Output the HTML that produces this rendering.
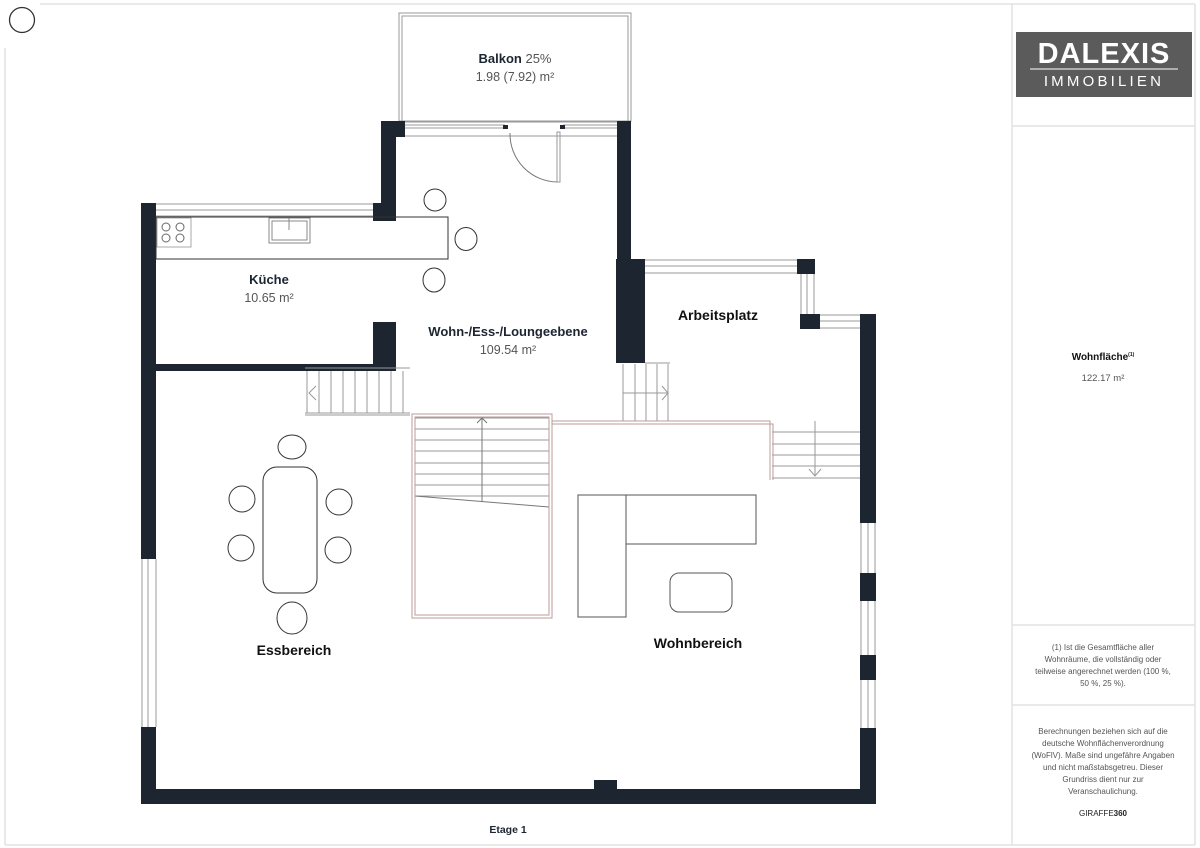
<!DOCTYPE html>
<html><head><meta charset="utf-8"><style>
body{margin:0;background:#fff;}
svg{display:block;font-family:"Liberation Sans",sans-serif;}
</style></head><body>
<svg width="1200" height="848" viewBox="0 0 1200 848" xmlns="http://www.w3.org/2000/svg">
<!-- page frame -->
<g stroke="#e2e2e2" stroke-width="1.5" fill="none">
<line x1="40" y1="4" x2="1195" y2="4"/>
<line x1="5" y1="48" x2="5" y2="845"/>
<line x1="5" y1="845" x2="1195" y2="845"/>
<line x1="1195" y1="4" x2="1195" y2="845"/>
<line x1="1012" y1="4" x2="1012" y2="845"/>
<line x1="1012" y1="126" x2="1195" y2="126"/>
<line x1="1012" y1="625" x2="1195" y2="625"/>
<line x1="1012" y1="705" x2="1195" y2="705"/>
</g>
<circle cx="22" cy="20" r="12.5" fill="none" stroke="#333" stroke-width="1.3"/>

<!-- balcony -->
<g fill="none" stroke="#999" stroke-width="1">
<rect x="399" y="13" width="232" height="108"/>
<rect x="402" y="16" width="226" height="105"/>
</g>
<text x="515" y="63" text-anchor="middle" font-size="13" fill="#1c2530"><tspan font-weight="bold">Balkon</tspan> <tspan fill="#555">25%</tspan></text>
<text x="515" y="81" text-anchor="middle" font-size="12.5" fill="#555">1.98 (7.92) m²</text>

<!-- glazing lines -->
<g stroke="#999" stroke-width="1" fill="none">
<line x1="405" y1="122" x2="617" y2="122"/>
<line x1="405" y1="125" x2="505" y2="125"/><line x1="563" y1="125" x2="617" y2="125"/>
<line x1="405" y1="128" x2="505" y2="128"/><line x1="563" y1="128" x2="617" y2="128"/>
<line x1="405" y1="136" x2="617" y2="136"/>
<!-- kitchen window -->
<line x1="156" y1="204" x2="373" y2="204"/><line x1="156" y1="210" x2="373" y2="210"/><line x1="156" y1="216" x2="373" y2="216"/>
<!-- arbeitsplatz windows -->
<line x1="645" y1="260" x2="797" y2="260"/><line x1="645" y1="266" x2="797" y2="266"/><line x1="645" y1="273" x2="797" y2="273"/>
<line x1="801" y1="274" x2="801" y2="314"/><line x1="807" y1="274" x2="807" y2="314"/><line x1="814" y1="274" x2="814" y2="314"/>
<line x1="820" y1="315" x2="860" y2="315"/><line x1="820" y1="321" x2="860" y2="321"/><line x1="820" y1="328" x2="860" y2="328"/>
<!-- left window -->
<line x1="142" y1="559" x2="142" y2="727"/><line x1="148" y1="559" x2="148" y2="727"/><line x1="156" y1="559" x2="156" y2="727"/>
<!-- right windows -->
<g>
<line x1="861" y1="523" x2="861" y2="573"/><line x1="868" y1="523" x2="868" y2="573"/><line x1="875" y1="523" x2="875" y2="573"/>
<line x1="861" y1="601" x2="861" y2="655"/><line x1="868" y1="601" x2="868" y2="655"/><line x1="875" y1="601" x2="875" y2="655"/>
<line x1="861" y1="680" x2="861" y2="728"/><line x1="868" y1="680" x2="868" y2="728"/><line x1="875" y1="680" x2="875" y2="728"/>
</g>
</g>
<rect x="503" y="125" width="5" height="4" fill="#1c2530"/>
<rect x="560" y="125" width="5" height="4" fill="#1c2530"/>
<!-- door -->
<path d="M510 133 A48 48 0 0 0 558 182" fill="none" stroke="#777" stroke-width="1"/>
<rect x="557" y="132" width="3" height="50" fill="none" stroke="#999" stroke-width="1"/>

<!-- walls -->
<g fill="#1c2530">
<rect x="381" y="121" width="24" height="16"/>
<rect x="381" y="121" width="15" height="100"/>
<rect x="373" y="203" width="23" height="18"/>
<rect x="617" y="121" width="14" height="140"/>
<rect x="616" y="259" width="29" height="104"/>
<rect x="797" y="259" width="18" height="15"/>
<rect x="800" y="314" width="20" height="15"/>
<rect x="860" y="314" width="16" height="209"/>
<rect x="860" y="573" width="16" height="28"/>
<rect x="860" y="655" width="16" height="25"/>
<rect x="860" y="728" width="16" height="76"/>
<rect x="141" y="203" width="15" height="356"/>
<rect x="141" y="727" width="15" height="77"/>
<rect x="141" y="789" width="735" height="15"/>
<rect x="594" y="780" width="23" height="10"/>
<rect x="156" y="364" width="240" height="7"/>
<rect x="373" y="322" width="23" height="49"/>
</g>

<!-- kitchen counter -->
<g fill="none" stroke="#333" stroke-width="1">
<rect x="156" y="217" width="292" height="42"/>
<rect x="269" y="218" width="41" height="25" stroke="#888"/>
<rect x="272" y="221" width="35" height="19" stroke="#888"/>
<line x1="289" y1="218" x2="289" y2="230" stroke="#888"/>
<rect x="157" y="218" width="34" height="29" stroke="#aaa"/>
<circle cx="166" cy="227" r="4" stroke="#666"/><circle cx="180" cy="227" r="4" stroke="#666"/>
<circle cx="166" cy="238" r="4" stroke="#666"/><circle cx="180" cy="238" r="4" stroke="#666"/>
<!-- stools -->
<ellipse cx="435" cy="200" rx="11" ry="11"/>
<ellipse cx="466" cy="239" rx="11" ry="11.5"/>
<ellipse cx="434" cy="280" rx="11" ry="12"/>
<!-- dining -->
<rect x="263" y="467" width="54" height="126" rx="14"/>
<ellipse cx="292" cy="447" rx="14" ry="12"/>
<circle cx="242" cy="499" r="13"/><circle cx="241" cy="548" r="13"/>
<circle cx="339" cy="502" r="13"/><circle cx="338" cy="550" r="13"/>
<ellipse cx="292" cy="618" rx="15" ry="16"/>
<!-- sofa -->
<rect x="578" y="495" width="48" height="122" stroke="#555"/>
<rect x="626" y="495" width="130" height="49" stroke="#555"/>
<rect x="670" y="573" width="62" height="39" rx="9" stroke="#555"/>
</g>

<!-- stairs -->
<g fill="none" stroke="#999" stroke-width="1">
<!-- small left -->
<line x1="305" y1="368" x2="410" y2="368"/><line x1="305" y1="413" x2="410" y2="413"/><line x1="305" y1="415" x2="410" y2="415"/>
<line x1="307" y1="371" x2="307" y2="413"/>
<line x1="319" y1="371" x2="319" y2="413"/><line x1="331" y1="371" x2="331" y2="413"/><line x1="343" y1="371" x2="343" y2="413"/>
<line x1="355" y1="371" x2="355" y2="413"/><line x1="367" y1="371" x2="367" y2="413"/><line x1="379" y1="371" x2="379" y2="413"/>
<line x1="391" y1="371" x2="391" y2="413"/><line x1="403" y1="371" x2="403" y2="413"/>
<polyline points="316,386 309,393 316,400"/>
<!-- small right -->
<line x1="623" y1="364" x2="623" y2="421"/><line x1="635" y1="364" x2="635" y2="421"/><line x1="646" y1="364" x2="646" y2="421"/><line x1="657" y1="364" x2="657" y2="421"/><line x1="668" y1="364" x2="668" y2="421"/>
<line x1="645" y1="363" x2="670" y2="363"/>
<line x1="623" y1="393" x2="668" y2="393"/>
<polyline points="662,386 668,393 662,400"/>
<!-- right stairs -->
<line x1="772" y1="432" x2="860" y2="432"/><line x1="772" y1="444" x2="860" y2="444"/><line x1="772" y1="455" x2="860" y2="455"/><line x1="772" y1="466" x2="860" y2="466"/><line x1="772" y1="478" x2="860" y2="478"/>
<line x1="815" y1="421" x2="815" y2="476"/>
<polyline points="809,469 815,476 821,469"/>
<!-- main stairs -->
<line x1="415" y1="418" x2="549" y2="418"/><line x1="415" y1="429" x2="549" y2="429"/><line x1="415" y1="440" x2="549" y2="440"/>
<line x1="415" y1="451" x2="549" y2="451"/><line x1="415" y1="463" x2="549" y2="463"/><line x1="415" y1="474" x2="549" y2="474"/>
<line x1="415" y1="485" x2="549" y2="485"/><line x1="415" y1="496" x2="549" y2="496"/>
<line x1="415" y1="496" x2="549" y2="507" stroke="#777"/>
<line x1="482" y1="418" x2="482" y2="502" stroke="#777"/>
<polyline points="477,423 482,418 487,423" stroke="#777"/>
</g>
<g fill="none" stroke="#b89e98" stroke-width="1">
<rect x="412" y="414" width="140" height="204"/>
<rect x="415" y="417" width="134" height="198"/>
<polyline points="552,421 770,421 770,480"/>
<polyline points="552,424 773,424 773,480"/>
</g>

<!-- room labels -->
<g fill="#1c2530" text-anchor="middle">
<text x="269" y="284" font-size="13" font-weight="bold">Küche</text>
<text x="269" y="302" font-size="12.5" fill="#555">10.65 m²</text>
<text x="508" y="336" font-size="13" font-weight="bold">Wohn-/Ess-/Loungeebene</text>
<text x="508" y="354" font-size="12.5" fill="#555">109.54 m²</text>
<text x="718" y="320" font-size="14" font-weight="bold" fill="#111">Arbeitsplatz</text>
<text x="294" y="655" font-size="14" font-weight="bold" fill="#111">Essbereich</text>
<text x="698" y="648" font-size="14" font-weight="bold" fill="#111">Wohnbereich</text>
<text x="508" y="833" font-size="10.5" font-weight="bold">Etage 1</text>
</g>

<!-- sidebar -->
<rect x="1016" y="32" width="176" height="65" fill="#5b5b5b"/>
<text x="1104" y="63" text-anchor="middle" font-size="29" font-weight="bold" fill="#fff" letter-spacing="1">DALEXIS</text>
<line x1="1030" y1="69" x2="1178" y2="69" stroke="#fff" stroke-width="1"/>
<text x="1104" y="86" text-anchor="middle" font-size="15" fill="#fff" letter-spacing="3.2">IMMOBILIEN</text>
<g text-anchor="middle" fill="#555">
<text x="1103" y="360" font-size="10" font-weight="bold" fill="#111">Wohnfläche<tspan font-size="5" dy="-4">(1)</tspan></text>
<text x="1103" y="381" font-size="9.5">122.17 m²</text>
<g font-size="8">
<text x="1103" y="650">(1) Ist die Gesamtfläche aller</text>
<text x="1103" y="662">Wohnräume, die vollständig oder</text>
<text x="1103" y="674">teilweise angerechnet werden (100 %,</text>
<text x="1103" y="686">50 %, 25 %).</text>
<text x="1103" y="734">Berechnungen beziehen sich auf die</text>
<text x="1103" y="746">deutsche Wohnflächenverordnung</text>
<text x="1103" y="758">(WoFlV). Maße sind ungefähre Angaben</text>
<text x="1103" y="770">und nicht maßstabsgetreu. Dieser</text>
<text x="1103" y="782">Grundriss dient nur zur</text>
<text x="1103" y="794">Veranschaulichung.</text>
<text x="1103" y="816" fill="#222">GIRAFFE<tspan font-weight="bold">360</tspan></text>
</g>
</g>
</svg>
</body></html>
